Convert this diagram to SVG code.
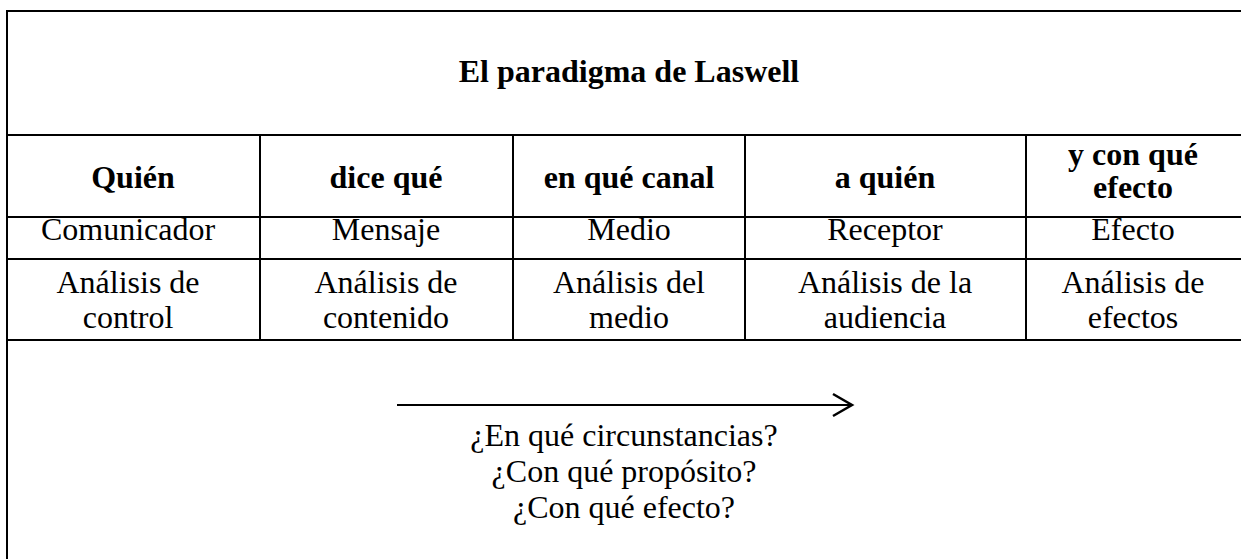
<svg xmlns="http://www.w3.org/2000/svg" width="1241" height="559" viewBox="0 0 1241 559">
<defs>
<style>
.ln{stroke:#000;stroke-width:2;fill:none}
.t{font-size:32px;fill:#000;text-anchor:middle}
.b{font-weight:bold}
</style>
<marker id="ah" markerWidth="24" markerHeight="26" refX="21" refY="13" orient="auto" markerUnits="userSpaceOnUse">
<path d="M2,2 L21,13 L2,24" fill="none" stroke="#000" stroke-width="2.5"/>
</marker>
</defs>
<rect width="1241" height="559" fill="#fff"/>
<g id="frame">
<path class="ln" d="M7,559 V11 H1241"/>
<path class="ln" d="M7,135 H1241 M7,217 H1241 M7,259 H1241 M7,340 H1241"/>
<path class="ln" d="M260,135 V340 M513,135 V340 M745,135 V340 M1026,135 V340"/>
</g>
<g font-family="Liberation Serif, serif">
<g id="title"><text class="t b" x="629" y="82">El paradigma de Laswell</text></g>
<g id="col1">
<text class="t b" x="133" y="188">Quién</text>
<text class="t" x="128" y="240">Comunicador</text>
<text class="t" x="128" y="293">Análisis de</text>
<text class="t" x="128" y="328">control</text>
</g>
<g id="col2">
<text class="t b" x="386" y="188">dice qué</text>
<text class="t" x="386" y="240">Mensaje</text>
<text class="t" x="386" y="293">Análisis de</text>
<text class="t" x="386" y="328">contenido</text>
</g>
<g id="col3">
<text class="t b" x="629" y="188">en qué canal</text>
<text class="t" x="629" y="240">Medio</text>
<text class="t" x="629" y="293">Análisis del</text>
<text class="t" x="629" y="328">medio</text>
</g>
<g id="col4">
<text class="t b" x="885" y="188">a quién</text>
<text class="t" x="885" y="240">Receptor</text>
<text class="t" x="885" y="293">Análisis de la</text>
<text class="t" x="885" y="328">audiencia</text>
</g>
<g id="col5">
<text class="t b" x="1133" y="165">y con qué</text>
<text class="t b" x="1133" y="198">efecto</text>
<text class="t" x="1133" y="240">Efecto</text>
<text class="t" x="1133" y="293">Análisis de</text>
<text class="t" x="1133" y="328">efectos</text>
</g>
<g id="questions">
<text class="t" x="624" y="446">¿En qué circunstancias?</text>
<text class="t" x="624" y="482">¿Con qué propósito?</text>
<text class="t" x="624" y="518">¿Con qué efecto?</text>
</g>
</g>
<g id="connectors">
<line class="ln" x1="397" y1="405" x2="852" y2="405" stroke-width="2.5" marker-end="url(#ah)"/>
</g>
</svg>
